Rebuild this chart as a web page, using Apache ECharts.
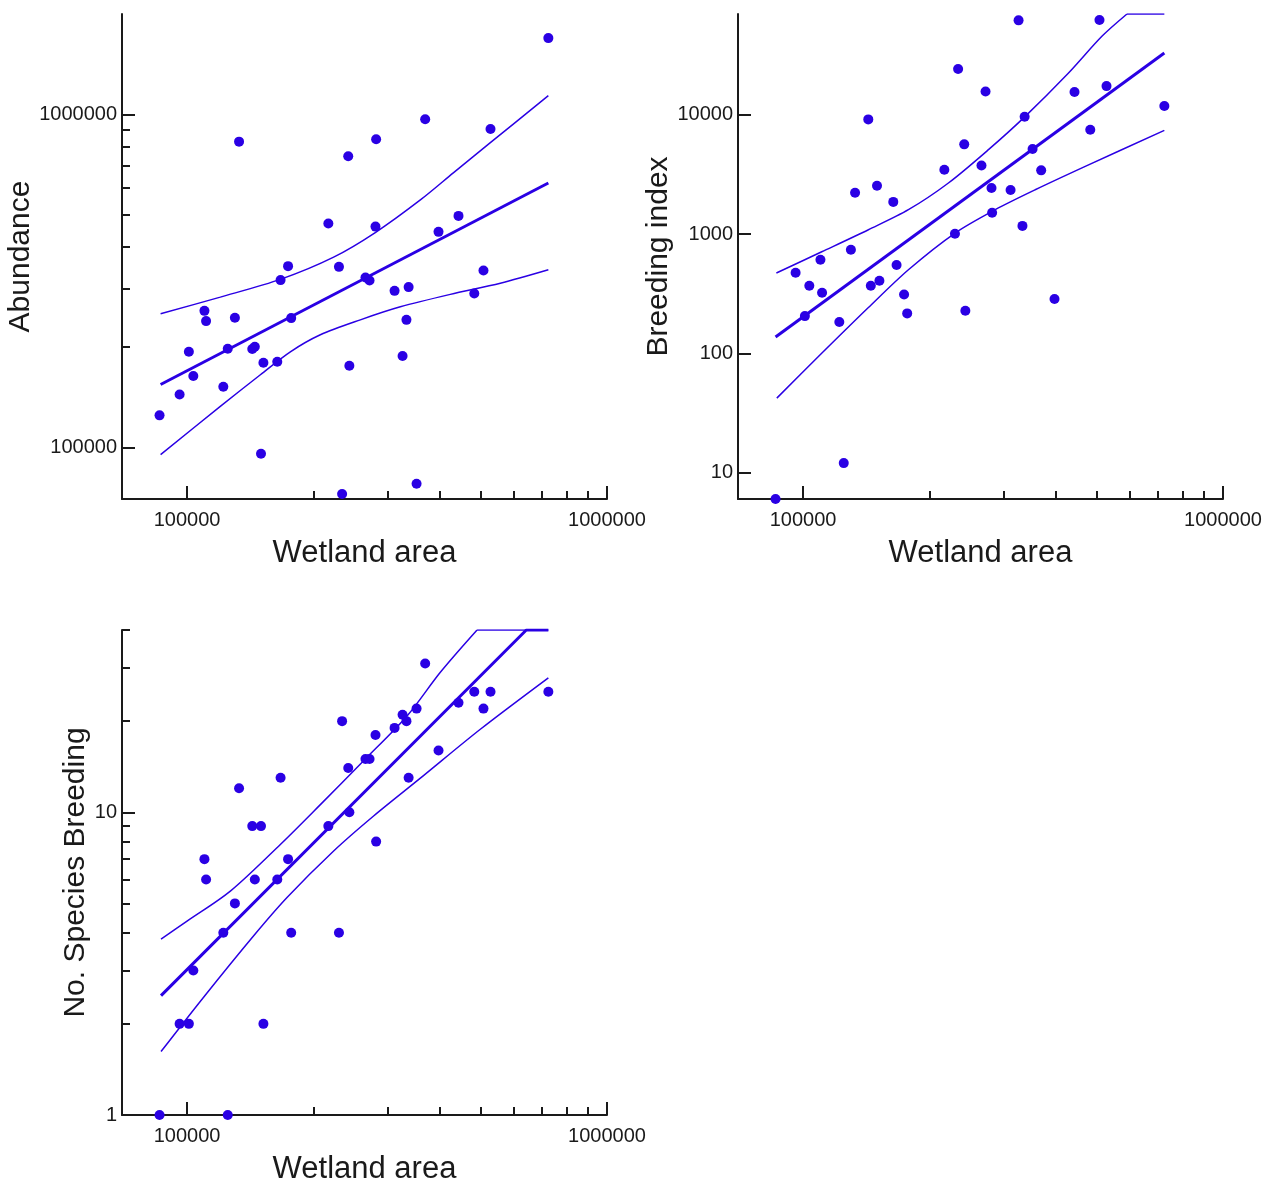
<!DOCTYPE html>
<html>
<head>
<meta charset="utf-8">
<title>Wetland area</title>
<script src="https://cdn.jsdelivr.net/npm/echarts@6/dist/echarts.min.js"></script>
<style>
html,body{margin:0;padding:0;background:#fff;}
#main{width:1263px;height:1184px;}
</style>
</head>
<body>
<div id="main"></div>
<script>
// wetland area of each site (same sites in all three panels)
var area = [86000, 96000, 101000, 103500, 110000, 111000, 122000, 125000, 130000, 133000,
	143000, 145000, 150000, 152000, 164000, 167000, 174000, 177000, 217000, 230000,
	234000, 242000, 243500, 266000, 272000, 281000, 282000, 312000, 326000, 333000,
	337000, 352000, 369000, 397000, 443000, 483000, 508000, 528000, 725000];
var abundance = [124800, 144200, 193700, 163800, 257000, 239400, 152100, 197700, 244900, 827700,
	197300, 200500, 95700, 179500, 180800, 317800, 350000, 244400, 469800, 348300,
	72500, 748200, 175900, 323600, 316800, 460100, 841600, 295100, 188000, 241500,
	302800, 77800, 966000, 443600, 495400, 289600, 339600, 903000, 1693000];
var breeding = [6, 474, 205, 368, 609, 322, 183, 12, 739, 2220,
	9150, 368, 2540, 406, 1860, 550, 311, 216, 3460, 1006,
	24200, 5650, 227, 3760, 15700, 2430, 1510, 2340, 61900, 1170,
	9640, 5170, 3420, 285, 15500, 7500, 62400, 17400, 11850];
var species = [1, 2, 2, 3, 7, 6, 4, 1, 5, 12,
	9, 6, 9, 2, 6, 13, 7, 4, 9, 4,
	20, 14, 10, 15, 15, 18, 8, 19, 21, 20,
	13, 22, 31, 16, 23, 25, 22, 25, 25];

// fitted line and confidence limits as drawn (clipped at the top of the plot)
var abFitX = [86500, 725000];
var abFit = [154500, 622000];
var abUpX = [86500, 120000, 167400, 223400, 280700, 359400, 431300, 527500, 725000];
var abUp = [251800, 282600, 320000, 372500, 441500, 553200, 668200, 822000, 1137000];
var abLoX = [86500, 120000, 149500, 176200, 207700, 258600, 322000, 423500, 557200, 725000];
var abLo = [95100, 132800, 165200, 193600, 217800, 241500, 264200, 288000, 310900, 341200];

var brFitX = [86000, 725000];
var brFit = [137, 33000];
var brUpX = [86400, 110800, 143100, 178200, 221900, 276400, 338100, 428700, 514800, 590600, 725000];
var brUp = [471, 710, 1087, 1600, 2680, 5100, 9700, 22400, 45500, 70000, 70000];
var brLoX = [86600, 108800, 143100, 178200, 230200, 286800, 357100, 469900, 725000];
var brLo = [42.1, 94, 242, 502, 1020, 1600, 2350, 3690, 7400];

var spFitX = [86700, 642500, 725000];
var spFit = [2.48, 40, 40];
var spUpX = [86700, 100000, 126800, 166800, 207700, 263300, 334100, 401000, 490400, 725000];
var spUp = [3.81, 4.37, 5.49, 7.83, 10.6, 14.8, 20.8, 29.0, 40, 40];
var spLoX = [86700, 109500, 144100, 173000, 223400, 278100, 359400, 499300, 725000];
var spLo = [1.62, 2.45, 3.91, 5.23, 7.45, 9.72, 12.96, 18.8, 27.8];

// ticks
var xMajor = [100000, 1000000];
var xMinor = [200000, 300000, 400000, 500000, 600000, 700000, 800000, 900000];
var abMajor = [100000, 1000000];
var abMinor = [200000, 300000, 400000, 500000, 600000, 700000, 800000, 900000];
var brMajor = [10, 100, 1000, 10000];
var spMajor = [1, 10];
var spMinor = [2, 3, 4, 5, 6, 7, 8, 9, 20, 30, 40];

var FONT = 'Liberation Sans, Arial, sans-serif';
var INK = '#1a1a1a';
var BLUE = '#2a00e4';

function pairs(xs, ys) {
	return xs.map(function (v, i) { return [v, ys[i]]; });
}
function num(v) {
	return String(Math.round(v));
}

var myChart = echarts.init(document.getElementById('main'));

var grids = [
	{left: 122, top: 14, width: 485, height: 485, containLabel: false, outerBoundsMode: 'none'},
	{left: 738, top: 14, width: 485, height: 485, containLabel: false, outerBoundsMode: 'none'},
	{left: 122, top: 630, width: 485, height: 485, containLabel: false, outerBoundsMode: 'none'}
];
var xAxes = [];
var yAxes = [];
var series = [];

function mainAxis(gi, min, max, ticks, name, gap, vertical) {
	var ax = {
		type: 'log', logBase: 10, gridIndex: gi, min: min, max: max,
		name: name, nameLocation: 'middle', nameGap: gap,
		nameTextStyle: {fontFamily: FONT, fontSize: vertical ? 30 : 31, color: INK},
		axisLine: {show: true, onZero: false, lineStyle: {color: INK, width: 2}},
		axisTick: {show: true, inside: true, length: 13, lineStyle: {color: INK, width: 2}, customValues: ticks},
		axisLabel: {show: true, margin: vertical ? 5 : 11, fontFamily: FONT, fontSize: 20, color: INK,
			customValues: ticks, formatter: num},
		splitLine: {show: false}
	};
	if (vertical) { ax.nameRotate = 90; ax.position = 'left'; } else { ax.position = 'bottom'; }
	return ax;
}
function minorAxis(gi, min, max, ticks, vertical) {
	return {
		type: 'log', logBase: 10, gridIndex: gi, min: min, max: max,
		position: vertical ? 'left' : 'bottom',
		axisLine: {show: false, onZero: false},
		axisTick: {show: true, inside: true, length: 8, lineStyle: {color: INK, width: 2}, customValues: ticks},
		axisLabel: {show: false},
		splitLine: {show: false}
	};
}
function band(xi, yi, data, width, smooth) {
	return {
		type: 'line', xAxisIndex: xi, yAxisIndex: yi, data: data,
		symbol: 'none', showSymbol: false, smooth: smooth, silent: true,
		lineStyle: {color: BLUE, width: width}, z: 2
	};
}
function panel(gi, yMin, yMax, yMajor, yMinor, yName, yGap, ys, fitX, fit, upX, up, loX, lo, upFlat) {
	var xi = xAxes.length;
	xAxes.push(mainAxis(gi, 70000, 1000000, xMajor, 'Wetland area', 39, false));
	xAxes.push(minorAxis(gi, 70000, 1000000, xMinor, false));
	var yi = yAxes.length;
	yAxes.push(mainAxis(gi, yMin, yMax, yMajor, yName, yGap, true));
	if (yMinor) yAxes.push(minorAxis(gi, yMin, yMax, yMinor, true));

	series.push({
		type: 'scatter', xAxisIndex: xi, yAxisIndex: yi,
		data: pairs(area, ys), symbolSize: 10,
		itemStyle: {color: BLUE, opacity: 1}, z: 3
	});
	series.push(band(xi, yi, pairs(fitX, fit), 3, false));
	var upData = pairs(upX, up);
	if (upFlat) {
		// curved part, then the stretch held at the top of the plot
		series.push(band(xi, yi, upData.slice(0, upData.length - 1), 1.5, 0.3));
		series.push(band(xi, yi, upData.slice(upData.length - 2), 1.5, false));
	} else {
		series.push(band(xi, yi, upData, 1.5, 0.3));
	}
	series.push(band(xi, yi, pairs(loX, lo), 1.5, 0.3));
}

panel(0, 70000, 2000000, abMajor, abMinor, 'Abundance', 83, abundance, abFitX, abFit, abUpX, abUp, abLoX, abLo, false);
panel(1, 6, 70000, brMajor, null, 'Breeding index', 63, breeding, brFitX, brFit, brUpX, brUp, brLoX, brLo, true);
panel(2, 1, 40, spMajor, spMinor, 'No. Species Breeding', 30, species, spFitX, spFit, spUpX, spUp, spLoX, spLo, true);

var option = {
	animation: false,
	backgroundColor: '#ffffff',
	tooltip: {show: false},
	grid: grids,
	xAxis: xAxes,
	yAxis: yAxes,
	series: series
};
myChart.setOption(option);
</script>
</body>
</html>
